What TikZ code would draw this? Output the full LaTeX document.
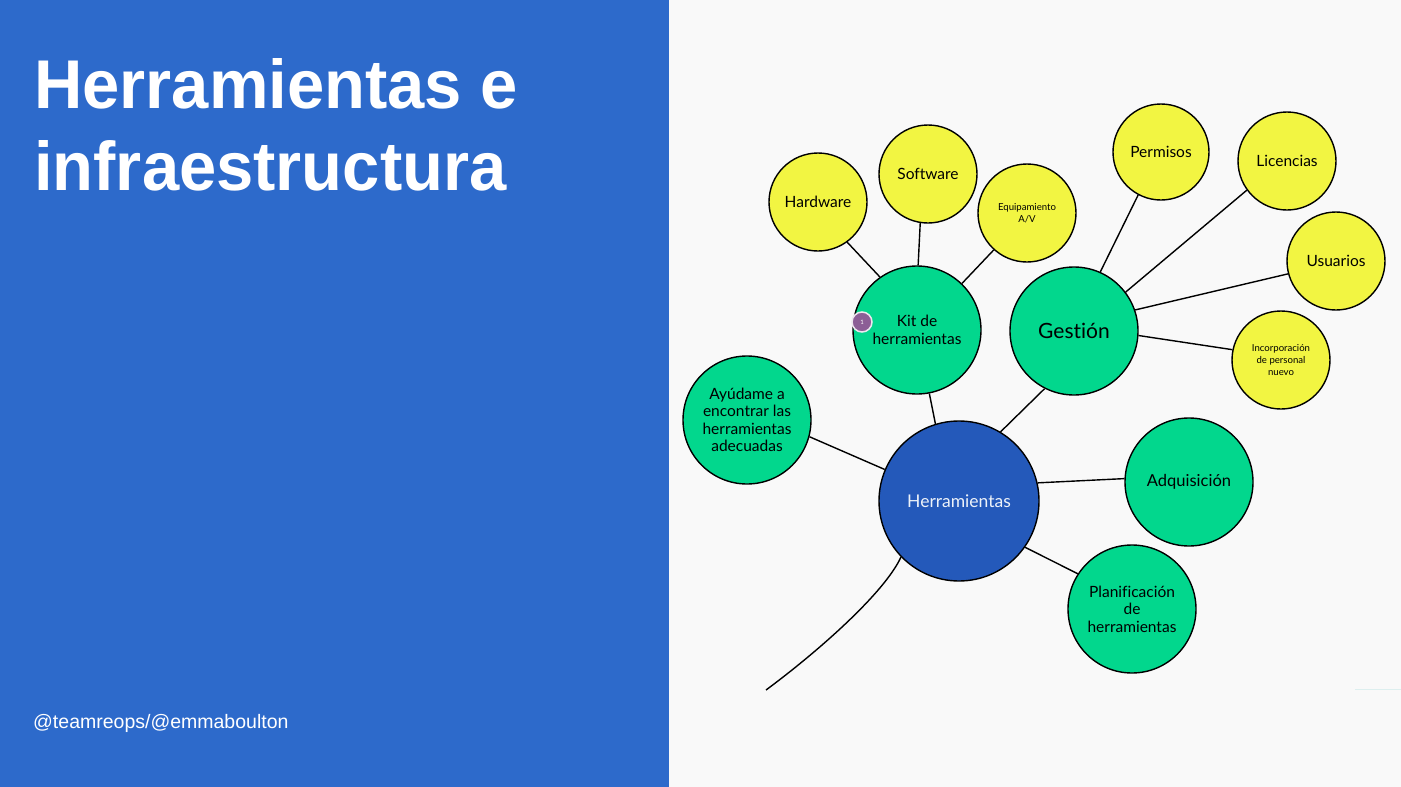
\documentclass[tikz,border=0pt]{standalone}
\usepackage{fontspec}
\setmainfont{Liberation Sans}
\newfontfamily\circfont[Ligatures=NoCommon]{Lato}
\definecolor{leftbg}{HTML}{2D6ACB}
\definecolor{rightbg}{HTML}{F9F9F9}
\definecolor{greenc}{HTML}{02D78D}
\definecolor{yellowc}{HTML}{F2F542}
\definecolor{bluec}{HTML}{2459BA}
\definecolor{badgec}{HTML}{8C5E96}
\definecolor{faint}{HTML}{DDEFEF}
\begin{document}
\begin{tikzpicture}[x=1pt,y=-1pt,
  bubble/.style={circle,draw=black,line width=1.4pt,inner sep=0pt,align=center,text=black},
  yel/.style={bubble,fill=yellowc,minimum size=98pt},
  grn/.style={bubble,fill=greenc,minimum size=128pt},
  link/.style={line width=1.4pt,black},
  txtA/.style={font=\circfont\fontsize{15.5}{17.5}\selectfont},
  txtS/.style={font=\circfont\fontsize{9.6}{11.8}\selectfont},
]
\useasboundingbox (0,0) rectangle (1401,787);
\fill[rightbg] (0,0) rectangle (1401,787);
\fill[leftbg] (0,0) rectangle (669,787);

% title and footer
\node[anchor=base west,inner sep=0pt,text=white,font=\bfseries\fontsize{69}{82}\selectfont] (t1) at (34,108) {\scalebox{0.97}[1]{Herramientas e}};
\node[anchor=base west,inner sep=0pt,text=white,font=\bfseries\fontsize{69}{82}\selectfont] (t2) at (34,190) {\scalebox{0.97}[1]{infraestructura}};
\node[anchor=base west,inner sep=0pt,text=white,font=\fontsize{19.5}{22}\selectfont] (foot) at (33,728) {@teamreops/@emmaboulton};

% bubbles
\node[yel,txtA] (hw) at (818,202) {Hardware};
\node[yel,txtA] (sw) at (928,174) {Software};
\node[yel,txtS] (av) at (1027,213) {Equipamiento\\A/V};
\node[grn,txtA] (kit) at (917,330) {Kit de\\herramientas};
\node[grn,font=\circfont\fontsize{21}{24}\selectfont] (ges) at (1074,331) {Gestión};
\node[yel,txtA,minimum size=96pt] (per) at (1161,152) {Permisos};
\node[yel,txtA] (lic) at (1287,161) {Licencias};
\node[yel,txtA] (usu) at (1336,261) {Usuarios};
\node[yel,txtS] (inc) at (1281,360) {Incorporación\\de personal\\nuevo};
\node[grn,txtA] (ayu) at (747,420) {Ayúdame a\\encontrar las\\herramientas\\adecuadas};
\node[bubble,fill=bluec,minimum size=160pt,text=white!92!bluec,font=\circfont\fontsize{17.5}{20}\selectfont] (her) at (959,501) {Herramientas};
\node[grn,font=\circfont\fontsize{16.5}{18}\selectfont] (adq) at (1189,482) {Adquisición};
\node[grn,txtA] (pla) at (1132,609) {Planificación\\de\\herramientas};

% connectors
\draw[link] (hw.-54) -- (kit.125);
\draw[link] (sw.-99) -- (kit.89);
\draw[link] (av.-132) -- (kit.46);
\draw[link] (kit.-79) -- (her.107);
\draw[link] (ges.-117) -- (her.59);
\draw[link] (per.-118) -- (ges.66);
\draw[link] (lic.-144) -- (ges.37);
\draw[link] (usu.-165) -- (ges.19);
\draw[link] (inc.168) -- (ges.-4);
\draw[link] (ayu.-15) -- (her.157);
\draw[link] (her.13) -- (adq.177);
\draw[link] (her.-35) -- (pla.147);
\coordinate (cend) at (766,690);
\draw[link] (her.-136) .. controls (885,592) and (820,650) .. (cend);

% faint mark bottom right
\coordinate (fa) at (1355,689);
\coordinate (fb) at (1401,689);
\draw[faint,line width=0.8pt] (fa) -- (fb);

% badge
\node[circle,fill=badgec,draw=white!85!badgec,line width=1.5pt,minimum size=20pt,inner sep=0pt,text=white,font=\circfont\fontsize{6}{7}\selectfont] (badge) at (862,322) {1};
\end{tikzpicture}
\end{document}
